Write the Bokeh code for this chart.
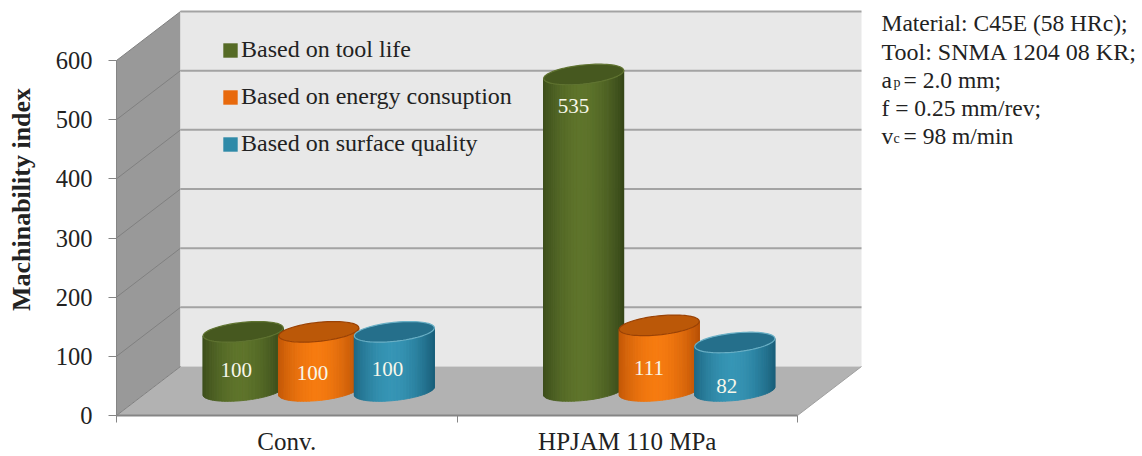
from bokeh.plotting import figure
from bokeh.models import Range1d, FixedTicker, Legend, LegendItem, Label, ColumnDataSource
from bokeh.embed import file_html
from bokeh.resources import INLINE
from bokeh.core.properties import value
import numpy as np

# ---- data
categories = ["Conv.", "HPJAM 110 MPa"]
series_names = ["Based on tool life", "Based on energy consuption", "Based on surface quality"]
tool_life = [100, 535]
energy = [100, 111]
surface = [100, 82]
y_ticks = [0, 100, 200, 300, 400, 500, 600]
note_lines = ["Material: C45E (58 HRc);", "Tool: SNMA 1204 08 KR;", "a", "p", "= 2.0 mm;",
              "f = 0.25 mm/rev;", "v", "c", "= 98 m/min"]

# ---- layout (pixels of the reference)
FONT = "Liberation Serif"
TXT = "#222222"
X_PX, Y_PX = 340.5, 355 / 600      # px per category, px per index unit
LEFT, BASE = 116, 415
W, H = 1142, 456
depth_x, depth_y = 64 / X_PX, 49 / Y_PX
def dx(px): return (px - LEFT) / X_PX
def dy(py): return (BASE - py) / Y_PX

p = figure(width=W, height=H, output_backend="svg", toolbar_location=None,
           x_range=Range1d(dx(0), dx(W)), y_range=Range1d(dy(H), dy(0)),
           min_border_left=0, min_border_right=0, min_border_top=0, min_border_bottom=0,
           background_fill_color="white", border_fill_color="white", outline_line_color=None)
p.grid.visible = False

# walls and floor
top = y_ticks[-1]
p.patch([0, depth_x, depth_x, 0], [0, depth_y, depth_y + top, top], fill_color="#999999", line_color=None)
p.patch([depth_x, 2 + depth_x, 2 + depth_x, depth_x], [depth_y, depth_y, depth_y + top, depth_y + top],
        fill_color="#e8e8e8", line_color=None)
p.patch([0, depth_x, 2 + depth_x, 2], [0, depth_y, depth_y, 0], fill_color="#b2b2b2", line_color=None)
for t in y_ticks[1:]:
    p.line([depth_x, 2 + depth_x], [depth_y + t, depth_y + t], line_color="#a3a3a3", line_width=2)
    p.line([0, depth_x], [t, depth_y + t], line_color="#808080", line_width=1)
p.line([0, depth_x], [0, depth_y], line_color="#808080", line_width=1)
p.line([2, 2 + depth_x], [0, depth_y], line_color="#a0a0a0", line_width=1)

# cylinders
styles = [("#3a4b1a", "#5e742b", "#46581f", "#5f7330"),
          ("#bf5507", "#f67b10", "#bb5808", "#9a4205"),
          ("#1c6480", "#3695b5", "#256f8b", "#69afc5")]
offsets = [-0.222, 0.0, 0.222]
A, B, S = 40 / X_PX, 9.5 / Y_PX, 4 / Y_PX
BASE_Y = depth_y / 2
N = 40

def mix(c0, c1, f):
    a = [int(c0[i:i + 2], 16) for i in (1, 3, 5)]
    b = [int(c1[i:i + 2], 16) for i in (1, 3, 5)]
    return "#%02x%02x%02x" % tuple(int(round(x + (y - x) * f)) for x, y in zip(a, b))

def lower(u, yc):
    return yc + S * u - B * np.sqrt(1 - u * u)

def cylinder(xc, val, st):
    us = np.cos(np.linspace(np.pi, 0, N + 1))
    xs, ys, cols = [], [], []
    yt = BASE_Y + val
    for u0, u1 in zip(us[:-1], us[1:]):
        fine = np.linspace(u0, u1, 4)
        xs.append(list(xc + A * fine) + list(xc + A * fine[::-1]))
        ys.append(list(lower(fine, BASE_Y)) + list(lower(fine[::-1], yt)))
        um = (u0 + u1) / 2
        cols.append(mix(st[0], st[1], 1 - abs(um + 0.05) ** 1.8))
    p.patches(xs, ys, fill_color=cols, line_color=cols, line_width=1)
    t = np.linspace(0, 2 * np.pi, 80)
    p.patch(xc + A * np.cos(t), yt + S * np.cos(t) + B * np.sin(t),
            fill_color=st[2], line_color=st[3], line_width=1.2)

all_series = [tool_life, energy, surface]
for c in range(len(categories)):
    for s, vals in enumerate(all_series):
        cylinder(c + 0.5 + offsets[s] + depth_x / 2, vals[c], styles[s])

# value labels (their places in the picture)
label_x_shift = [[-0.02, -0.018, -0.02], [-0.03, -0.03, -0.024]]
label_y = [[dy(369), dy(372), dy(368)], [dy(105), dy(367), dy(385)]]
for c in range(len(categories)):
    for s, vals in enumerate(all_series):
        p.text([c + 0.5 + offsets[s] + depth_x / 2 + label_x_shift[c][s]], [label_y[c][s]],
               text=[str(vals[c])], text_color="#f7f7ea", text_font=value(FONT),
               text_font_size="21px", text_align="center", text_baseline="middle")

# axes, fixed on the front edges of the box
ya = p.yaxis[0]
ya.fixed_location = 0
ya.ticker = FixedTicker(ticks=y_ticks, minor_ticks=[])
ya.bounds = (0, 600)
ya.axis_line_color = "#858585"
ya.major_tick_line_color = "#858585"
ya.major_tick_in = 0
ya.major_tick_out = 8
ya.major_label_standoff = 16
ya.major_label_text_font = FONT
ya.major_label_text_font_size = "24.5px"
ya.major_label_text_color = TXT

xa = p.xaxis[0]
xa.fixed_location = 0
xa.ticker = FixedTicker(ticks=[0.5, 1.5], minor_ticks=[0, 1, 2])
xa.major_label_overrides = {0.5: categories[0], 1.5: categories[1]}
xa.bounds = (0, 2)
xa.axis_line_color = "#858585"
xa.axis_line_width = 2
xa.major_tick_in = 0
xa.major_tick_out = 0
xa.minor_tick_in = 0
xa.minor_tick_out = 7
xa.minor_tick_line_color = "#858585"
xa.major_label_standoff = 5
xa.major_label_text_font = FONT
xa.major_label_text_font_size = "25px"
xa.major_label_text_color = TXT

p.add_layout(Label(x=dx(21), y=dy(199), text="Machinability index", angle=np.pi / 2,
                   text_font=FONT, text_font_style="bold", text_font_size="26px", text_color=TXT,
                   text_align="center", text_baseline="middle"))

# legend
legend_cols = ["#566b26", "#e8690c", "#2f8aa8"]
items = []
for name, col in zip(series_names, legend_cols):
    r = p.quad(left=[np.nan], right=[np.nan], top=[np.nan], bottom=[np.nan], fill_color=col, line_color=None)
    items.append(LegendItem(label=name, renderers=[r]))
leg = Legend(items=items, location=(221, 299), orientation="vertical", padding=0, margin=0,
             spacing=20, label_height=24, glyph_width=18, glyph_height=18, label_standoff=2,
             background_fill_alpha=0, border_line_color=None,
             label_text_font=FONT, label_text_font_size="24px", label_text_color=TXT)
p.add_layout(leg)

# note at the right
note_x = [881, 881, 881, 893, 903, 881, 881, 893, 903]
note_y = [22, 51, 79, 82, 79, 107, 135, 138, 135]
note_size = ["23.5px", "24px", "23.5px", "14px", "23.5px", "23.5px", "23.5px", "14px", "23.5px"]
src = ColumnDataSource(dict(x=[dx(v) for v in note_x], y=[dy(v) for v in note_y], t=note_lines, s=note_size))
p.text("x", "y", text="t", source=src, text_font=value(FONT), text_font_size="s", text_color=TXT,
       text_align="left", text_baseline="middle")

open("out.html", "w").write(file_html(p, INLINE))
